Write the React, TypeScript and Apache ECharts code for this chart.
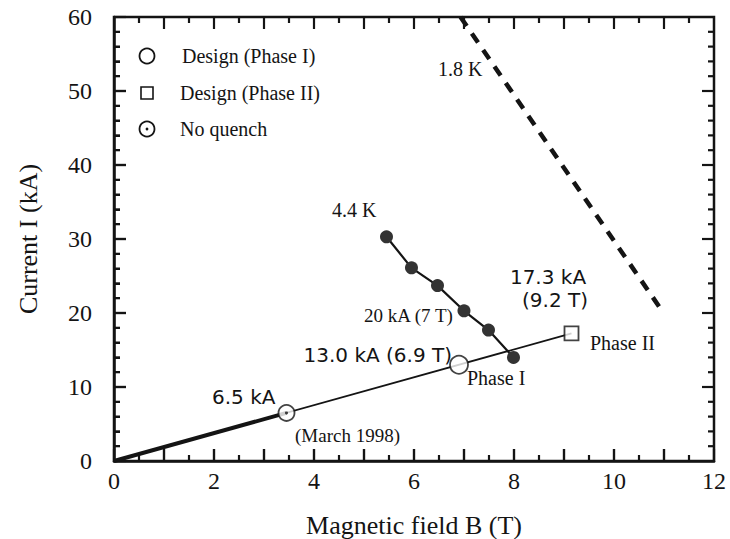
import React, { useEffect, useRef } from "react";
import * as echarts from "echarts";

// ---- data (B in tesla, I in kA) ----
const loadLineB = [0, 9.15];
const loadLineI = [0, 17.25];
const testedB = [0, 3.45];
const testedI = [0, 6.5];
const k44B = [5.45, 5.95, 6.47, 7.0, 7.49, 7.99];
const k44I = [30.3, 26.1, 23.7, 20.3, 17.7, 14.0];
const k18B = [6.93, 10.95];
const k18I = [60, 20.4];
const phaseIPoint = [6.9, 13.0];
const phaseIIPoint = [9.15, 17.25];
const noQuenchPoint = [3.45, 6.5];
const legendNames = ["Design (Phase I)", "Design (Phase II)", "No quench"];
// axis structure
const xTicks = { min: 0, max: 12, step: 1, minor: 0.5, labelEvery: 2 };
const yTicks = { min: 0, max: 60, step: 10, minor: 2 };

const SERIF = '"Liberation Serif", "Times New Roman", serif';
const SANS = '"DejaVu Sans", Verdana, sans-serif';
const INK = "#141414";

const pairs = (xs: number[], ys: number[]) => xs.map((x, i) => [x, ys[i]]);

// tick marks: [value, length]
const tickList = (t: { min: number; max: number; step: number; minor: number }, majorLen: number, minorLen: number) => {
  const out: number[][] = [];
  const n = Math.round((t.max - t.min) / t.minor);
  for (let i = 1; i < n; i++) {
    const v = +(t.min + i * t.minor).toFixed(6);
    const isMajor = Math.abs(v / t.step - Math.round(v / t.step)) < 1e-6;
    out.push([v, isMajor ? majorLen : minorLen]);
  }
  return out;
};
const xTickData = tickList(xTicks, 12, 6);
const yTickData = tickList(yTicks, 12, 6).map(([v, len]) => [len, v]);

export default function App() {
  const ref = useRef<HTMLDivElement>(null);
  useEffect(() => {
    document.body.style.margin = "0";
    if (!ref.current) return;
    const chart = echarts.init(ref.current, null, { renderer: "svg" });

    const txt = (text: string, x: number, y: number, font: string, align = "left") => ({
      type: "text",
      x,
      y,
      style: { text, font, fill: INK, align, verticalAlign: "middle" },
      z: 100,
    });
    const tickStyle = { stroke: INK, lineWidth: 2.2, fill: "none" };

    const legendX = 147;
    const legendY = [56, 93, 129];

    chart.setOption({
      animation: false,
      backgroundColor: "#ffffff",
      textStyle: { fontFamily: SERIF },
      grid: {
        left: 114,
        right: 16,
        top: 17,
        bottom: 78,
        containLabel: false,
        outerBoundsMode: "none",
        show: true,
        borderColor: INK,
        borderWidth: 2.5,
        backgroundColor: "transparent",
      },
      xAxis: {
        type: "value",
        min: xTicks.min,
        max: xTicks.max,
        interval: xTicks.step,
        splitLine: { show: false },
        axisLine: { show: true, lineStyle: { color: INK, width: 2.5 } },
        axisTick: { show: true, inside: true, length: 12, lineStyle: { color: INK, width: 2.2 } },
        minorTick: { show: true, splitNumber: 2, length: 6, lineStyle: { color: INK, width: 2 } },
        name: "Magnetic field B (T)",
        nameLocation: "middle",
        nameGap: 51,
        nameTextStyle: { fontFamily: SERIF, fontSize: 26, color: INK },
        axisLabel: {
          show: true,
          margin: 8,
          fontFamily: SERIF,
          fontSize: 24,
          color: INK,
          formatter: (v: number) => (v % xTicks.labelEvery === 0 ? String(v) : ""),
        },
      },
      yAxis: {
        type: "value",
        min: yTicks.min,
        max: yTicks.max,
        interval: yTicks.step,
        splitLine: { show: false },
        axisLine: { show: true, lineStyle: { color: INK, width: 2.5 } },
        axisTick: { show: true, inside: true, length: 12, lineStyle: { color: INK, width: 2.2 } },
        minorTick: { show: true, splitNumber: 5, length: 6, lineStyle: { color: INK, width: 2 } },
        name: "Current I (kA)",
        nameLocation: "middle",
        nameGap: 73,
        nameTextStyle: { fontFamily: SERIF, fontSize: 26, color: INK },
        axisLabel: { show: true, margin: 22, fontFamily: SERIF, fontSize: 24, color: INK },
      },
      series: [
        {
          type: "custom",
          silent: true,
          clip: false,
          z: 10,
          data: xTickData,
          renderItem: (_p: any, api: any) => {
            const v = api.value(0);
            const len = api.value(1);
            const b = api.coord([v, yTicks.min]);
            const t = api.coord([v, yTicks.max]);
            return {
              type: "group",
              children: [
                { type: "line", shape: { x1: b[0], y1: b[1], x2: b[0], y2: b[1] - len }, style: tickStyle },
                { type: "line", shape: { x1: t[0], y1: t[1], x2: t[0], y2: t[1] + len }, style: tickStyle },
              ],
            };
          },
        },
        {
          type: "custom",
          silent: true,
          clip: false,
          z: 10,
          data: yTickData,
          renderItem: (_p: any, api: any) => {
            const len = api.value(0);
            const v = api.value(1);
            const l = api.coord([xTicks.min, v]);
            const r = api.coord([xTicks.max, v]);
            return {
              type: "group",
              children: [
                { type: "line", shape: { x1: l[0], y1: l[1], x2: l[0] + len, y2: l[1] }, style: tickStyle },
                { type: "line", shape: { x1: r[0], y1: r[1], x2: r[0] - len, y2: r[1] }, style: tickStyle },
              ],
            };
          },
        },
        {
          type: "line",
          data: pairs(loadLineB, loadLineI),
          symbol: "none",
          lineStyle: { color: INK, width: 1.8 },
          z: 2,
        },
        {
          type: "line",
          data: pairs(testedB, testedI),
          symbol: "none",
          lineStyle: { color: INK, width: 4 },
          z: 3,
        },
        {
          type: "line",
          name: "1.8 K",
          data: pairs(k18B, k18I),
          symbol: "none",
          lineStyle: { color: INK, width: 4.5, type: [11, 9] },
          z: 2,
        },
        {
          type: "line",
          name: "4.4 K",
          data: pairs(k44B, k44I),
          symbol: "circle",
          symbolSize: 13,
          showSymbol: true,
          itemStyle: { color: "#333333" },
          lineStyle: { color: INK, width: 2.2 },
          z: 4,
        },
        {
          type: "scatter",
          name: legendNames[0],
          data: [phaseIPoint],
          symbol: "circle",
          symbolSize: 18,
          itemStyle: { color: "#ffffff", borderColor: INK, borderWidth: 1.8 },
          z: 6,
        },
        {
          type: "scatter",
          name: legendNames[1],
          data: [phaseIIPoint],
          symbol: "rect",
          symbolSize: 14,
          itemStyle: { color: "#ffffff", borderColor: INK, borderWidth: 1.8 },
          z: 6,
        },
        {
          type: "scatter",
          name: legendNames[2],
          data: [noQuenchPoint],
          symbol: "circle",
          symbolSize: 16,
          itemStyle: { color: "#ffffff", borderColor: INK, borderWidth: 1.8 },
          z: 6,
        },
        {
          type: "scatter",
          data: [noQuenchPoint],
          symbol: "circle",
          symbolSize: 3,
          itemStyle: { color: INK },
          z: 7,
        },
      ],
      graphic: [
        { type: "circle", shape: { cx: legendX, cy: legendY[0], r: 7.5 }, style: { fill: "#fff", stroke: INK, lineWidth: 1.8 }, z: 100 },
        { type: "rect", shape: { x: legendX - 6, y: legendY[1] - 6, width: 12, height: 12 }, style: { fill: "#fff", stroke: INK, lineWidth: 1.6 }, z: 100 },
        { type: "circle", shape: { cx: legendX, cy: legendY[2], r: 7.5 }, style: { fill: "#fff", stroke: INK, lineWidth: 1.8 }, z: 100 },
        { type: "circle", shape: { cx: legendX, cy: legendY[2], r: 1.4 }, style: { fill: INK }, z: 101 },
        txt(legendNames[0], 182, legendY[0], `20px ${SERIF}`),
        txt(legendNames[1], 180, legendY[1], `20px ${SERIF}`),
        txt(legendNames[2], 180, legendY[2], `20px ${SERIF}`),
        txt("1.8 K", 438, 69, `20px ${SERIF}`),
        txt("4.4 K", 332, 210, `20px ${SERIF}`),
        txt("17.3 kA", 548, 277, `20px ${SANS}`, "center"),
        txt("(9.2 T)", 555, 300, `20px ${SANS}`, "center"),
        txt("20 kA (7 T)", 364, 315, `19px ${SERIF}`),
        txt("13.0 kA (6.9 T)", 452, 355, `20px ${SANS}`, "right"),
        txt("Phase II", 590, 343, `20px ${SERIF}`),
        txt("Phase I", 467, 378, `20px ${SERIF}`),
        txt("6.5 kA", 212, 397, `20px ${SANS}`),
        txt("(March 1998)", 295, 435, `19px ${SERIF}`),
      ],
    });
    return () => chart.dispose();
  }, []);
  return <div ref={ref} style={{ width: 730, height: 539 }} />;
}
